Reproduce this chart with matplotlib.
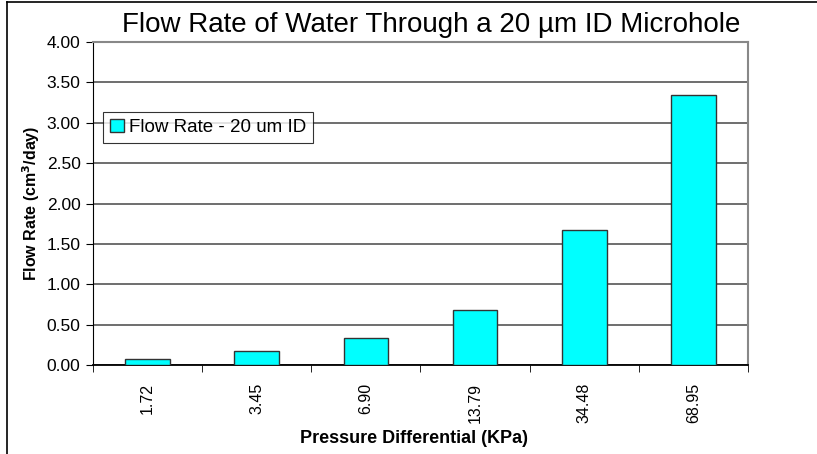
import numpy as np
import matplotlib
matplotlib.use('Agg')
import matplotlib.pyplot as plt
from matplotlib.lines import Line2D

pressure = ['1.72', '3.45', '6.90', '13.79', '34.48', '68.95']
flow_rate = [0.08, 0.17, 0.34, 0.68, 1.67, 3.34]

plt.rcParams['font.family'] = ['Liberation Sans', 'DejaVu Sans']

fig = plt.figure(figsize=(8.17, 4.54), dpi=100)
W, H = 817, 454
ax = fig.add_axes([93 / W, 1 - 365 / H, (748 - 93) / W, (365 - 42) / H])

x = np.arange(len(pressure))
ax.bar(x, flow_rate, width=0.41, color='#00FFFF', edgecolor='#333333',
       linewidth=1, label='Flow Rate - 20 um ID', zorder=3)

ax.set_xlim(-0.5, len(pressure) - 0.5)
ax.set_ylim(0, 4)
yt = np.arange(0, 4.01, 0.5)
ax.set_yticks(yt)
ax.set_yticklabels(['%.2f' % v for v in yt], fontsize=12.5)
ax.yaxis.grid(True, color='#555555', linewidth=1.2, zorder=0)

# category labels centred, ticks on the boundaries
ax.set_xticks(x)
ax.set_xticklabels(pressure, rotation=90, fontsize=11.5)
ax.tick_params(axis='x', length=0, pad=13)
ax.set_xticks(np.arange(-0.5, len(pressure)), minor=True)
ax.tick_params(axis='x', which='minor', length=5, direction='out', color='black')
ax.tick_params(axis='y', length=5, color='black', pad=4)

for s in ['top', 'right']:
    ax.spines[s].set_color('#888888')
    ax.spines[s].set_linewidth(1.5)
ax.spines['left'].set_color('black')
ax.spines['bottom'].set_color('black')
ax.spines['bottom'].set_linewidth(1.3)

ax.set_ylabel('Flow Rate (cm$^\\mathbf{3}$/day)', fontsize=11.5, fontweight='bold', labelpad=3)
fig.text(414 / W, 1 - 443 / H, 'Pressure Differential (KPa)', fontsize=13,
         fontweight='bold', ha='center', va='baseline')
fig.text(431 / W, 1 - 32 / H, 'Flow Rate of Water Through a 20 \u00b5m ID Microhole',
         fontsize=20, ha='center', va='baseline')

leg = ax.legend(loc='upper left', bbox_to_anchor=(10 / 655, 1 - 70 / 323),
                fontsize=13.5, frameon=True, fancybox=False, edgecolor='black',
                handlelength=0.75, handleheight=0.75, handletextpad=0.3,
                borderpad=0.35, borderaxespad=0)
leg.get_frame().set_linewidth(0.8)

# outer frame (top and left visible)
fig.add_artist(Line2D([7 / W, 7 / W], [0, 1 - 2 / H], color='black', lw=1.2))
fig.add_artist(Line2D([7 / W, 1], [1 - 2 / H, 1 - 2 / H], color='black', lw=1.2))

fig.savefig('out.png', dpi=100)
